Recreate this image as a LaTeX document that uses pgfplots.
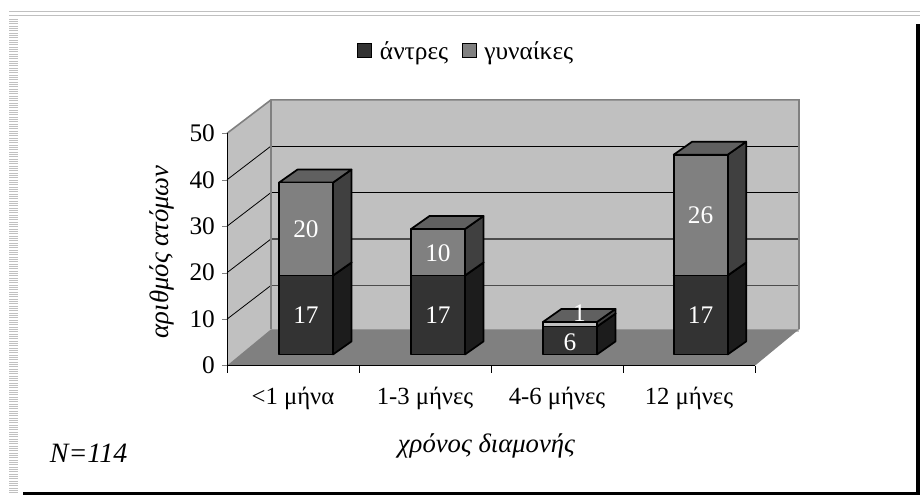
\documentclass[border=0pt]{standalone}
\usepackage{fontspec}
\setmainfont{Liberation Serif}
\usepackage{pgfplots}
\usepackage{pgfplotstable}
\pgfplotsset{compat=1.18}

\definecolor{wallc}{HTML}{C0C0C0}
\definecolor{floorc}{HTML}{808080}
\definecolor{menfront}{HTML}{333333}
\definecolor{menside}{HTML}{1C1C1C}
\definecolor{womenfront}{HTML}{808080}
\definecolor{womenside}{HTML}{404040}
\definecolor{womentop}{HTML}{606060}

% positions of the value labels on the bars
\pgfplotstableread{
x y label
0.598 10.9 17
1.598 10.9 17
2.598 5.1 6
3.588 10.9 17
0.598 29.4 20
1.598 24.3 10
2.670 11.3 1
3.588 32.3 26
}\barlabels

% one stacked segment: category, bottom value, top value, front colour, side colour, top colour
\newcommand{\barseg}[6]{%
  \pgfmathsetmacro{\xa}{#1+0.394}%
  \pgfmathsetmacro{\xb}{#1+0.803}%
  \pgfmathsetmacro{\xc}{#1+0.943}%
  \pgfmathsetmacro{\xd}{#1+0.534}%
  \pgfmathsetmacro{\ya}{#2+2.4}%
  \pgfmathsetmacro{\yb}{#3+2.4}%
  \pgfmathsetmacro{\yc}{#2+5.2}%
  \pgfmathsetmacro{\yd}{#3+5.2}%
  \edef\temp{\noexpand\addplot[forget plot,draw=black,line width=1.3pt,line join=round,fill=#5] coordinates {(\xb,\ya)(\xc,\yc)(\xc,\yd)(\xb,\yb)} -- cycle;
  \noexpand\addplot[forget plot,draw=black,line width=1.3pt,line join=round,fill=#6] coordinates {(\xa,\yb)(\xb,\yb)(\xc,\yd)(\xd,\yd)} -- cycle;
  \noexpand\addplot[forget plot,draw=black,line width=1.3pt,line join=round,fill=#4] coordinates {(\xa,\ya)(\xb,\ya)(\xb,\yb)(\xa,\yb)} -- cycle;}%
  \temp
}

\begin{document}
\begin{tikzpicture}
\fontsize{18.5}{20}\selectfont
\useasboundingbox (0,0) rectangle (690pt,371.25pt);

% page decoration
\fill[white] (0,0) rectangle (690pt,371.25pt);
\draw[wallc,line width=0.9pt] (6.75pt,362.6pt) -- (690pt,362.6pt);
\draw[wallc,line width=0.9pt] (6.75pt,359.6pt) -- (690pt,359.6pt);
\foreach \i in {0,...,204}
  \draw[wallc,line width=0.5pt] (6.75pt,{357pt-\i*1.75pt}) -- (13.5pt,{357pt-\i*1.75pt});
\fill[black] (17pt,0) rectangle (690pt,2.5pt);
\fill[black] (686.75pt,0) rectangle (690pt,353pt);

\begin{axis}[
    at={(170.25pt,97.05pt)},
    anchor=origin,
    scale only axis,
    width=396pt,
    height=174.2pt,
    xmin=0, xmax=4,
    ymin=0, ymax=50,
    clip=false,
    axis on top,
    axis lines=left,
    x axis line style={-},
    y axis line style={-},
    tick align=outside,
    xtick={0.5,1.5,2.5,3.5},
    xticklabels={{<1 μήνα},{1-3 μήνες},{4-6 μήνες},{12 μήνες}},
    minor xtick={0,1,2,3,4},
    major x tick style={draw=none},
    minor x tick style={black},
    minor tick length=5.5pt,
    ytick={0,10,20,30,40,50},
    major tick length=3.75pt,
    tick label style={font=\fontsize{18.5}{20}\selectfont},
    y tick label style={font=\fontsize{19}{20}\selectfont,xshift=1pt},
    /pgf/number format/assume math mode=true,
    x tick label style={yshift=-6pt},
    xlabel={\textit{χρόνος διαμονής}},
    xlabel style={font=\fontsize{20}{22}\selectfont,at={(axis description cs:0.4915,-0.345)},anchor=center},
    ylabel={\textit{αριθμός ατόμων}},
    ylabel style={font=\fontsize{20}{22}\selectfont,at={(axis description cs:-0.124,0.49)},anchor=center,rotate=0},
    legend columns=2,
    legend style={at={(0.4535,1.35)},anchor=center,draw=none,fill=none,
      font=\fontsize{19}{20}\selectfont,
      /tikz/every even column/.append style={column sep=8pt}},
    legend image code/.code={\draw[#1,line width=1pt] (0pt,-4pt) rectangle (10.5pt,6.5pt); \path (14.5pt,0);},
]
\addlegendimage{draw=black,fill=menfront}
\addlegendimage{draw=black,fill=womenfront}
\legend{άντρες,γυναίκες}

% walls and floor
\addplot[forget plot,draw=none,fill=wallc] coordinates {(0.333,7.2)(4.333,7.2)(4.333,57.2)(0.333,57.2)} -- cycle;
\addplot[forget plot,draw=none,fill=wallc] coordinates {(0,0)(0.333,7.2)(0.333,57.2)(0,50)} -- cycle;

% gridlines on the side wall and the back wall
\addplot[forget plot,black,line width=0.6pt] coordinates {(0,10)(0.333,17.25)};
\addplot[forget plot,black,line width=0.6pt] coordinates {(0,20)(0.333,27.25)};
\addplot[forget plot,black,line width=0.6pt] coordinates {(0,30)(0.333,37.25)};
\addplot[forget plot,black,line width=0.6pt] coordinates {(0,40)(0.333,47.25)};
\addplot[forget plot,color=black!70,line width=1pt] coordinates {(0.333,17.25)(4.333,17.25)};
\addplot[forget plot,color=black!70,line width=1pt] coordinates {(0.333,27.25)(4.333,27.25)};
\addplot[forget plot,black,line width=0.6pt] coordinates {(0.333,37.25)(4.333,37.25)};
\addplot[forget plot,black,line width=0.6pt] coordinates {(0.333,47.25)(4.333,47.25)};

\addplot[forget plot,draw=floorc,line width=1.2pt] coordinates {(0,50)(0.333,57.2)(4.333,57.2)(4.333,7.8)};
\addplot[forget plot,draw=floorc,line width=1.4pt] coordinates {(0.333,57.2)(0.333,7.8)};
\addplot[forget plot,draw=none,fill=floorc] coordinates {(0,0)(0.333,7.8)(4.333,7.8)(4,0)} -- cycle;

% stacked bars: men 17, 17, 6, 17 and women 20, 10, 1, 26
\barseg{0}{0}{17}{menfront}{menside}{menside}
\barseg{0}{17}{37}{womenfront}{womenside}{womentop}
\barseg{1}{0}{17}{menfront}{menside}{menside}
\barseg{1}{17}{27}{womenfront}{womenside}{womentop}
\barseg{2}{0}{6}{menfront}{menside}{menside}
\barseg{2}{6}{7}{wallc}{womenside}{womentop}
\barseg{2.99}{0}{17}{menfront}{menside}{menside}
\barseg{2.99}{17}{43}{womenfront}{womenside}{womentop}

\addplot[forget plot,draw=none,mark=none,
    nodes near coords,
    point meta=explicit symbolic,
    every node near coord/.append style={anchor=center,text=white,font=\fontsize{19}{20}\selectfont,inner sep=0pt},
] table[x=x,y=y,meta=label] {\barlabels};
\end{axis}

\node[anchor=center] at (66.5pt,31.5pt) {\fontsize{21}{23}\selectfont\textit{N=114}};
\end{tikzpicture}
\end{document}
